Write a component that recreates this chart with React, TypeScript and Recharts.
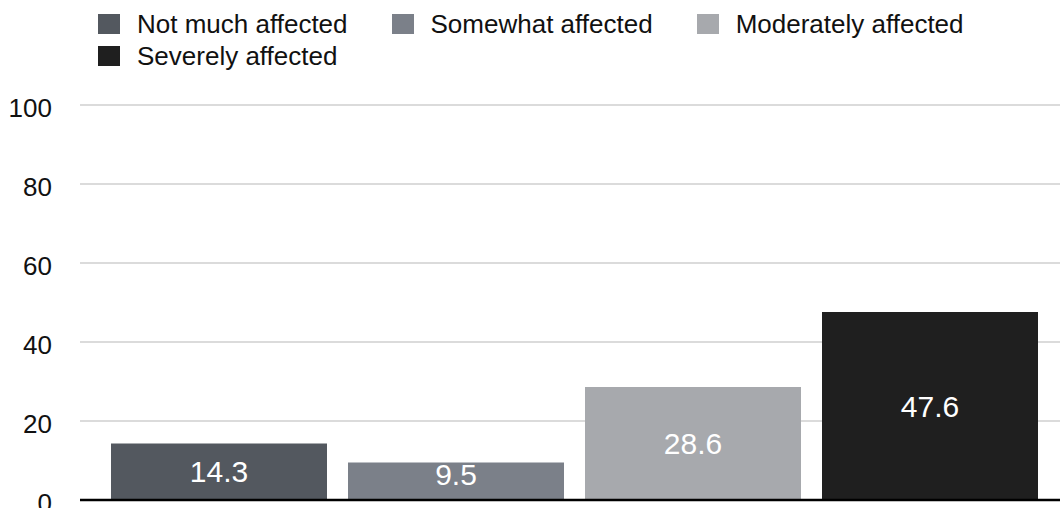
import { Bar, BarChart, CartesianGrid, LabelList, Legend, XAxis, YAxis } from "recharts";

const SERIES_NAMES = [
	"Not much affected",
	"Somewhat affected",
	"Moderately affected",
	"Severely affected",
];
const SERIES_VALUES = [14.3, 9.5, 28.6, 47.6];
const SERIES_COLORS = ["#53585f", "#7b8089", "#a7a9ad", "#1f1f1f"];
const Y_TICKS = [0, 20, 40, 60, 80, 100];

const FONT = '"Liberation Sans", Arial, Helvetica, sans-serif';

// one category row, one key per series
const DATA = [
	SERIES_VALUES.reduce<Record<string, number | string>>(
		(row, v, i) => {
			row[`s${i}`] = v;
			return row;
		},
		{ group: "" },
	),
];

function LegendContent(props: any) {
	// keep series order instead of the legend's alphabetical sort
	const items = [...(props.payload || [])].sort(
		(a: any, b: any) => SERIES_NAMES.indexOf(a.value) - SERIES_NAMES.indexOf(b.value),
	);
	return (
		<div
			style={{
				display: "flex",
				flexWrap: "wrap",
				columnGap: 44,
				rowGap: 0,
				boxSizing: "border-box",
				width: 1060,
				height: 97,
				paddingLeft: 98,
				paddingRight: 60,
				alignContent: "flex-start",
			}}
		>
			{items.map((item: any) => (
				<div
					key={item.value}
					style={{ display: "flex", alignItems: "center", height: 32 }}
				>
					<span
						style={{
							display: "inline-block",
							width: 22,
							height: 20,
							background: item.color,
							marginRight: 17,
						}}
					/>
					<span style={{ fontSize: 26, color: "#111", whiteSpace: "nowrap" }}>
						{item.value}
					</span>
				</div>
			))}
		</div>
	);
}

// value centred in the bar, kept clear of the baseline on short bars
function ValueLabel(props: any) {
	const { x, y, width, height, value } = props;
	const bottom = y + height;
	const baseline = Math.min(y + height / 2 + 10.7, bottom - 15);
	return (
		<text
			x={x + width / 2}
			y={baseline}
			textAnchor="middle"
			fill="#ffffff"
			fontSize={30}
			fontFamily={FONT}
		>
			{value}
		</text>
	);
}

export default function App() {
	return (
		<div
			style={{
				position: "absolute",
				left: 0,
				top: 0,
				width: 1060,
				height: 508,
				fontFamily: FONT,
				background: "#fff",
			}}
		>
			<BarChart
				width={1060}
				height={508}
				data={DATA}
				margin={{ top: 8, right: 0, bottom: 7, left: 0 }}
				barGap={21}
			>
				<CartesianGrid
					vertical={false}
					stroke="#cfcfcf"
					strokeWidth={1.5}
				/>
				<XAxis
					dataKey="group"
					tick={false}
					tickLine={false}
					height={1}
					padding={{ left: 9, right: 0 }}
					axisLine={{ stroke: "#000", strokeWidth: 2.5 }}
				/>
				<YAxis
					domain={[0, 100]}
					ticks={Y_TICKS}
					interval={0}
					width={80}
					axisLine={false}
					tickLine={false}
					tickSize={0}
					tickMargin={28}
					tick={{ fontSize: 26, fill: "#111", fontFamily: FONT, dy: 3 }}
				/>
				<Legend
					verticalAlign="top"
					align="left"
					content={<LegendContent />}
					wrapperStyle={{ left: 0, width: 1060 }}
				/>
				{SERIES_NAMES.map((name, i) => (
					<Bar
						key={name}
						dataKey={`s${i}`}
						name={name}
						fill={SERIES_COLORS[i]}
						barSize={216}
						isAnimationActive={false}
					>
						<LabelList dataKey={`s${i}`} content={<ValueLabel />} />
					</Bar>
				))}
			</BarChart>
		</div>
	);
}
